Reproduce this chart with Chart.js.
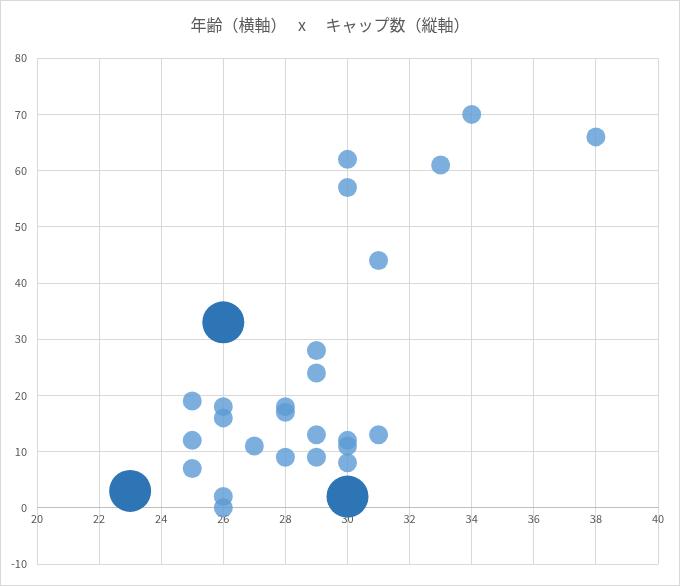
<!DOCTYPE html>
<html><head><meta charset="utf-8">
<script src="https://cdn.jsdelivr.net/npm/chart.js@4"></script>
<style>html,body{margin:0;padding:0;background:#fff}#w{width:678px;height:584px;border:1px solid #d9d9d9}</style>
</head><body><div id="w"><canvas id="c"></canvas></div>
<script>
const ages = [34,38,30,33,30,31,29,29,25,26,28,28,26,29,31,25,30,27,30,28,29,30,25,26,26];
const caps = [70,66,62,61,57,44,28,24,19,18,18,17,16,13,13,12,12,11,11,9,9,8,7,2,0];
const bigAges = [23,26,30];
const bigCaps = [3,33,2];
const smallSize = 9.5;
const bigSize = 21;
const xTicks = [20,40,2];
const yTicks = [-10,80,10];
const title = '年齢（横軸）　 x 　キャップ数（縦軸）';

const small = ages.map((a,i)=>({x:a,y:caps[i],r:smallSize}));
const big = bigAges.map((a,i)=>({x:a,y:bigCaps[i],r:bigSize}));
const tickFont = {family:'"Noto Sans CJK JP", "Liberation Sans", sans-serif', size:11};
new Chart(document.getElementById('c'),{
  type:'bubble',
  data:{datasets:[
    {data:small,backgroundColor:'rgba(91,155,213,0.8)',borderWidth:0,hoverBorderWidth:0},
    {data:big,backgroundColor:'#2e75b6',borderWidth:0,hoverBorderWidth:0}
  ]},
  options:{
    responsive:true,maintainAspectRatio:false,animation:false,
    layout:{padding:{left:0,right:20,bottom:14,top:0}},
    plugins:{legend:{display:false},tooltip:{enabled:false},
      title:{display:true,text:title,color:'#595959',
        font:{family:'"Noto Sans CJK JP", sans-serif',size:16,weight:'normal'},
        padding:{top:14,bottom:24}}},
    scales:{
      x:{type:'linear',min:xTicks[0],max:xTicks[1],position:{y:0},
        ticks:{stepSize:xTicks[2],color:'#595959',font:tickFont,padding:4},
        grid:{color:'#d9d9d9',drawTicks:false},border:{color:'#bfbfbf'}},
      y:{type:'linear',min:yTicks[0],max:yTicks[1],
        afterFit:s=>{s.width=36;},
        ticks:{stepSize:yTicks[2],color:'#595959',font:tickFont,padding:10},
        grid:{color:'#d9d9d9',drawTicks:false},border:{display:false}}
    }
  }
});
</script></body></html>
